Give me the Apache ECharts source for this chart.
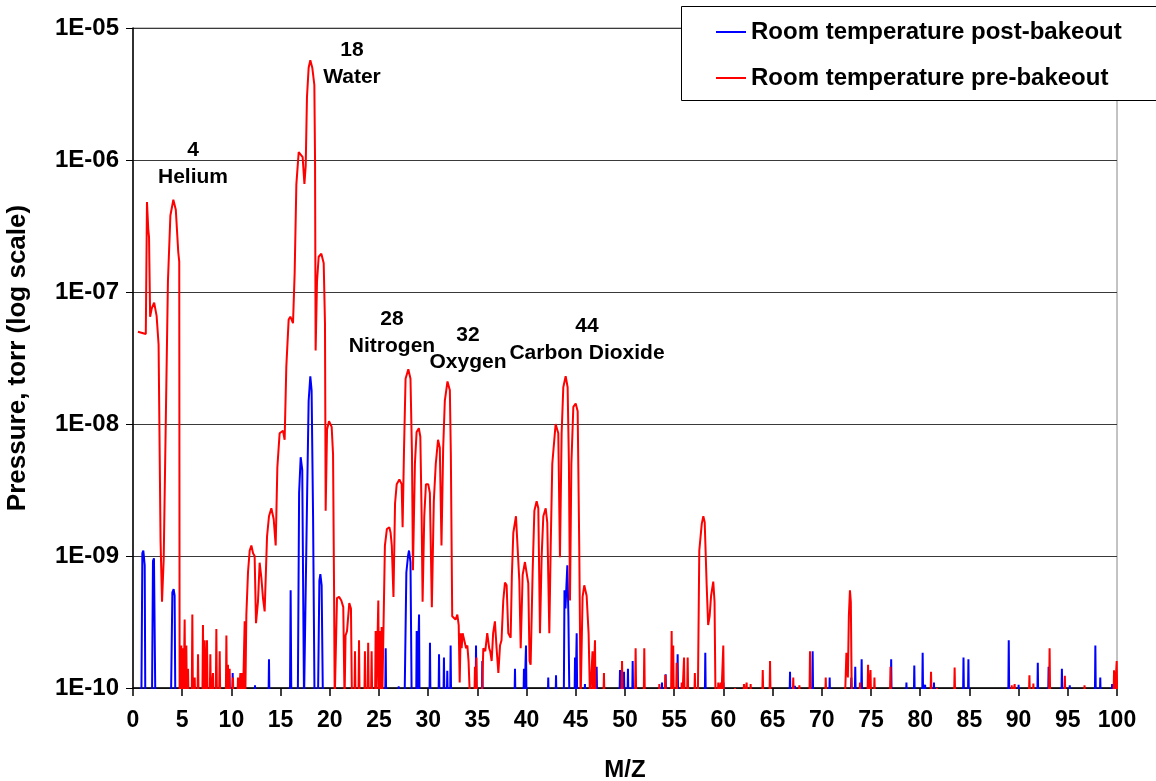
<!DOCTYPE html>
<html>
<head>
<meta charset="utf-8">
<script src="https://cdn.jsdelivr.net/npm/echarts@6/dist/echarts.min.js"></script>
<style>
html,body{margin:0;padding:0;background:#fff;}
#chart{width:1156px;height:781px;}
</style>
</head>
<body>
<div id="chart"></div>
<script>
// ---------- DATA ----------
const FLOOR = 8e-11; // below the 1E-10 axis floor (line drops off the plot)

const seriesNames = ['Room temperature post-bakeout', 'Room temperature pre-bakeout'];
const yTickLabels = ['1E-10', '1E-09', '1E-08', '1E-07', '1E-06', '1E-05'];

// Pre-bakeout (red): continuous parts of the spectrum [M/Z, pressure]
const redTrace = [
  [0.5,5.0e-8],[1.3,4.8e-8],[1.42,4.8e-7],[1.55,3.0e-7],[1.63,2.6e-7],[1.74,6.5e-8],[1.9,7.5e-8],[2.15,8.3e-8],[2.4,6.6e-8],[2.6,4.0e-8],[2.8,1.3e-9],[2.95,4.5e-10],[3.12,9.5e-10],[3.35,1.3e-8],[3.55,1.2e-7],[3.8,3.8e-7],[4.1,5.0e-7],[4.35,4.2e-7],[4.6,2.0e-7],[4.7,1.7e-7],[4.74,FLOOR],
  [11.45,FLOOR],[11.52,3.6e-10],[11.69,7.6e-10],[11.86,1.1e-9],[12.03,1.2e-9],[12.2,1.05e-9],[12.36,1.0e-9],[12.5,3.1e-10],[12.7,4.5e-10],[12.87,8.9e-10],[13.04,6.9e-10],[13.21,4.8e-10],[13.38,3.8e-10],[13.55,3.7e-10],[13.62,1.4e-9],[13.82,2.0e-9],[14.06,2.3e-9],[14.3,1.9e-9],[14.5,1.2e-9],[14.67,4.7e-9],[14.9,8.5e-9],[15.24,8.9e-9],[15.41,7.6e-9],[15.58,2.7e-8],[15.82,6.2e-8],[15.99,6.5e-8],[16.26,5.8e-8],[16.43,1.4e-7],[16.6,6.5e-7],[16.84,1.15e-6],[17.04,1.18e-6],[17.24,1.05e-6],[17.42,6.6e-7],[17.55,9.0e-7],[17.68,3.0e-6],[17.85,5.0e-6],[18.02,5.7e-6],[18.22,5.0e-6],[18.43,3.7e-6],[18.5,1.0e-6],[18.56,3.6e-8],[18.7,1.2e-7],[18.87,1.85e-7],[19.14,1.95e-7],[19.38,1.65e-7],[19.51,5.8e-8],[19.58,2.2e-9],[19.72,9.1e-9],[19.92,1.05e-8],[20.19,9.5e-9],[20.33,5.9e-9],[20.43,6.0e-10],[20.5,FLOOR],
  [20.62,FLOOR],[20.73,4.8e-10],[20.94,4.9e-10],[21.17,4.6e-10],[21.37,4.1e-10],[21.5,FLOOR],[21.6,2.5e-10],[21.75,2.7e-10],[21.98,4.4e-10],[22.15,4.0e-10],[22.25,FLOOR],
  [25.45,FLOOR],[25.6,1.2e-9],[25.8,1.6e-9],[26.05,1.65e-9],[26.18,1.5e-9],[26.3,1.2e-9],[26.47,4.9e-10],[26.63,2.5e-9],[26.8,3.5e-9],[27.07,3.8e-9],[27.3,3.5e-9],[27.4,1.65e-9],[27.54,6.3e-9],[27.7,2.2e-8],[27.98,2.6e-8],[28.2,2.2e-8],[28.35,6.0e-9],[28.45,7.8e-10],[28.65,5.0e-9],[28.82,8.7e-9],[29.05,9.3e-9],[29.2,8.0e-9],[29.33,2.1e-9],[29.43,4.5e-10],[29.6,2.0e-9],[29.77,3.5e-9],[30.0,3.5e-9],[30.17,3.0e-9],[30.37,4.1e-10],[30.57,2.6e-9],[30.77,5.0e-9],[31.0,7.6e-9],[31.18,6.6e-9],[31.35,1.2e-9],[31.52,6.5e-9],[31.69,1.5e-8],[31.96,2.1e-8],[32.2,1.8e-8],[32.3,6.0e-9],[32.44,3.5e-10],[32.6,3.6e-10],[32.78,3.3e-10],[32.96,3.6e-10],[33.1,3.0e-10],[33.2,1.1e-10],[33.3,2.6e-10],[33.4,2.0e-10],[33.5,2.6e-10],[33.7,2.6e-10],[33.85,2.0e-10],[33.98,2.1e-10],[34.1,1.6e-10],[34.25,FLOOR],
  [35.45,FLOOR],[35.6,2.0e-10],[35.8,1.9e-10],[36.0,2.6e-10],[36.2,2.0e-10],[36.3,1.9e-10],[36.45,1.6e-10],[36.6,2.6e-10],[36.78,3.2e-10],[36.95,2.0e-10],[37.13,1.3e-10],[37.3,2.1e-10],[37.45,2.3e-10],[37.63,4.6e-10],[37.8,6.3e-10],[37.97,6.0e-10],[38.14,2.6e-10],[38.38,2.4e-10],[38.5,7.0e-10],[38.65,1.5e-9],[38.92,2.0e-9],[39.09,2.0e-9],[39.26,6.5e-10],[39.4,2.0e-10],[39.6,7.2e-10],[39.83,9.0e-10],[40.0,9.0e-10],[40.17,6.2e-10],[40.3,1.6e-10],[40.41,1.5e-10],[40.61,7.4e-10],[40.79,2.2e-9],[41.02,2.6e-9],[41.19,2.3e-9],[41.36,2.6e-10],[41.53,1.0e-9],[41.7,2.0e-9],[41.94,2.3e-9],[42.1,1.8e-9],[42.31,2.6e-10],[42.45,1.2e-9],[42.61,5.0e-9],[42.95,1.0e-8],[43.22,8.5e-9],[43.39,9.8e-10],[43.56,8.5e-9],[43.73,1.9e-8],[43.97,2.3e-8],[44.17,1.9e-8],[44.3,5.0e-9],[44.41,4.6e-10],[44.55,5.0e-9],[44.75,1.35e-8],[44.99,1.43e-8],[45.19,1.25e-8],[45.35,1.2e-9],[45.49,FLOOR],[45.69,4.9e-10],[45.86,6.0e-10],[46.1,5.0e-10],[46.3,2.6e-10],[46.45,FLOOR],
  [57.4,FLOOR],[57.55,1.1e-9],[57.8,1.75e-9],[57.96,2.0e-9],[58.1,1.8e-9],[58.3,6.0e-10],[58.45,3.0e-10],[58.6,3.5e-10],[58.75,5.0e-10],[58.97,6.4e-10],[59.1,4.5e-10],[59.2,FLOOR],
  [72.35,FLOOR],[72.5,1.85e-10],[72.65,1.2e-10],[72.75,3.5e-10],[72.86,5.5e-10],[72.95,4.5e-10],[73.05,FLOOR]
];

// Pre-bakeout (red): isolated narrow spikes [M/Z, peak pressure]
const redSpikes = [
  [4.91,2.1e-10],[5.08,2.0e-10],[5.25,3.3e-10],[5.42,2.1e-10],[5.59,1.4e-10],[6.03,3.6e-10],[6.27,1.2e-10],[6.61,1.8e-10],[7.11,3.0e-10],[7.28,2.3e-10],[7.52,2.3e-10],[7.86,1.8e-10],[8.13,1.3e-10],[8.47,2.8e-10],[8.81,1.9e-10],[9.49,2.5e-10],[9.65,1.5e-10],[9.82,1.4e-10],[10.16,1.2e-10],[10.67,1.2e-10],[10.91,1.3e-10],[11.11,1.3e-10],[11.35,3.2e-10],
  [22.56,1.9e-10],[22.97,2.3e-10],[23.57,1.9e-10],[23.9,2.2e-10],[24.25,1.9e-10],[24.66,2.7e-10],[24.93,4.6e-10],[25.1,2.7e-10],[25.27,2.9e-10],
  [34.75,1.45e-10],[34.9,1.7e-10],
  [46.7,1.9e-10],[46.95,2.3e-10],[47.86,1.3e-10],[49.7,1.6e-10],[51.08,2.0e-10],[51.96,2.0e-10],[53.49,1.07e-10],[54.1,1.26e-10],[54.74,2.7e-10],[54.9,2.1e-10],[55.25,1.55e-10],[55.76,1.1e-10],[56.0,1.7e-10],[56.37,1.7e-10],[57.1,1.3e-10],
  [59.48,1.1e-10],[59.72,1.1e-10],[59.99,2.1e-10],[61.18,1.0e-10],[62.09,1.07e-10],[62.36,1.1e-10],[62.77,1.07e-10],[64.0,1.37e-10],[64.74,1.6e-10],[67.1,1.2e-10],[67.72,1.05e-10],[68.8,1.9e-10],[70.4,1.2e-10],
  [73.88,1.1e-10],[74.7,1.5e-10],[74.95,1.37e-10],[75.35,1.2e-10],[76.98,1.45e-10],[81.1,1.33e-10],[81.7,1.0e-10],[83.5,1.43e-10],[89.3,1.05e-10],[89.6,1.07e-10],[91.1,1.25e-10],[91.5,1.08e-10],[93.15,2.0e-10],[94.7,1.24e-10],[96.7,1.05e-10],[99.7,1.36e-10],[99.97,1.6e-10]
];

// Post-bakeout (blue): shaped peaks [M/Z, pressure]
const blueTrace = [
  [0.85,FLOOR],[0.95,1.05e-9],[1.05,1.1e-9],[1.19,8.5e-10],[1.25,FLOOR],
  [1.93,FLOOR],[2.03,9.2e-10],[2.13,9.6e-10],[2.27,FLOOR],
  [3.86,FLOOR],[4.0,5.3e-10],[4.13,5.6e-10],[4.23,5.0e-10],[4.3,FLOOR],
  [15.95,FLOOR],[16.02,5.5e-10],[16.09,FLOOR],
  [16.75,FLOOR],[16.88,3.0e-9],[17.04,5.6e-9],[17.2,4.5e-9],[17.38,FLOOR],
  [17.55,FLOOR],[17.7,3.0e-9],[17.85,1.5e-8],[18.02,2.3e-8],[18.15,1.8e-8],[18.3,2.0e-9],[18.45,FLOOR],
  [18.8,FLOOR],[18.94,6.5e-10],[19.04,7.3e-10],[19.17,6.0e-10],[19.3,FLOOR],
  [27.6,FLOOR],[27.78,7.5e-10],[27.95,1.0e-9],[28.05,1.1e-9],[28.2,9.0e-10],[28.32,FLOOR],
  [43.78,FLOOR],[43.85,5.5e-10],[43.95,4.0e-10],[44.05,6.0e-10],[44.14,8.5e-10],[44.25,3.5e-10],[44.35,FLOOR]
];

// Post-bakeout (blue): isolated narrow spikes [M/Z, peak pressure]
const blueSpikes = [
  [10.13,1.3e-10],[12.4,1.05e-10],[13.82,1.65e-10],[25.68,2.0e-10],[27.0,1.03e-10],[28.83,2.7e-10],[29.07,3.6e-10],[30.18,2.2e-10],[31.1,1.8e-10],[31.6,1.7e-10],[31.94,1.35e-10],[32.28,2.1e-10],[34.86,2.1e-10],[35.5,1.6e-10],[38.82,1.4e-10],[39.73,1.4e-10],[39.94,2.1e-10],[42.2,1.2e-10],[42.99,1.25e-10],[44.92,1.7e-10],[45.09,2.6e-10],[45.93,1.07e-10],[47.12,1.45e-10],[49.49,1.37e-10],[49.9,1.33e-10],[50.3,1.4e-10],[50.78,1.6e-10],[53.76,1.1e-10],[54.13,1.27e-10],[55.35,1.8e-10],[58.16,1.85e-10],[60.0,1.1e-10],[66.77,1.33e-10],[67.27,1.04e-10],[69.07,1.9e-10],[70.8,1.2e-10],[73.0,1.2e-10],[73.4,1.45e-10],[74.05,1.65e-10],[77.05,1.65e-10],[78.6,1.1e-10],[79.4,1.48e-10],[80.25,1.85e-10],[80.5,1.06e-10],[81.4,1.1e-10],[84.4,1.7e-10],[84.9,1.65e-10],[89.0,2.3e-10],[90.0,1.06e-10],[91.95,1.55e-10],[93.05,1.45e-10],[94.4,1.4e-10],[95.2,1.05e-10],[97.8,2.1e-10],[98.3,1.2e-10],[99.5,1.07e-10]
];

// Peak annotations: [label line 1, label line 2]
const annotations = [
  ['4', 'Helium'], ['18', 'Water'], ['28', 'Nitrogen'], ['32', 'Oxygen'], ['44', 'Carbon Dioxide']
];

// ---------- BUILD ----------
function buildLine(trace, spikes, halfWidth) {
  const pts = trace.map(p => p.slice());
  spikes.forEach(([x, h]) => {
    pts.push([x - halfWidth, FLOOR], [x, h], [x + halfWidth, FLOOR]);
  });
  pts.sort((a, b) => a[0] - b[0]);
  return pts;
}
const blueData = buildLine(blueTrace, blueSpikes, 0.05);
const redData = buildLine(redTrace, redSpikes, 0.06);

const FONT = "'Liberation Sans', Arial, Helvetica, sans-serif";
const annotPos = [[193,150],[352,50],[392,319],[468,335],[587,326]];

const chart = echarts.init(document.getElementById('chart'), null, {renderer: 'canvas'});
const graphics = [{
  type: 'rect', left: 681, top: 6, z: 10,
  shape: {width: 490, height: 94},
  style: {fill: '#fff', stroke: '#000', lineWidth: 1}
}];
annotations.forEach((a, i) => {
  const [cx, cy] = annotPos[i];
  graphics.push({type: 'text', x: cx, y: cy, z: 20,
    style: {text: a[0], font: 'bold 21px ' + FONT, fill: '#000', textAlign: 'center', textVerticalAlign: 'middle'}});
  graphics.push({type: 'text', x: cx, y: cy + 27, z: 20,
    style: {text: a[1], font: 'bold 21px ' + FONT, fill: '#000', textAlign: 'center', textVerticalAlign: 'middle'}});
});

chart.setOption({
  animation: false,
  backgroundColor: '#fff',
  textStyle: {fontFamily: FONT},
  grid: {left: 133, right: 39, top: 28, bottom: 93, show: true, borderColor: '#888', borderWidth: 1,
         backgroundColor: 'transparent', containLabel: false, outerBoundsMode: 'none'},
  legend: {
    orient: 'vertical', left: 716, top: 20, padding: 0, itemGap: 22, z: 30,
    itemWidth: 30, itemHeight: 2, icon: 'rect',
    textStyle: {fontSize: 24, fontWeight: 'bold', color: '#000', lineHeight: 24, fontFamily: FONT},
    data: seriesNames
  },
  xAxis: {
    type: 'value', min: 0, max: 100, interval: 5,
    name: 'M/Z', nameLocation: 'middle', nameGap: 70,
    nameTextStyle: {fontSize: 24, fontWeight: 'bold', color: '#000', fontFamily: FONT},
    axisLine: {show: true, onZero: false, lineStyle: {color: '#000', width: 1.5}},
    axisTick: {show: true, inside: false, length: 8, lineStyle: {color: '#000', width: 1.5}},
    axisLabel: {fontSize: 23, fontWeight: 'bold', color: '#000', margin: 21, fontFamily: FONT},
    splitLine: {show: false}
  },
  yAxis: {
    type: 'log', logBase: 10, min: 1e-10, max: 1e-5,
    name: 'Pressure, torr (log scale)', nameLocation: 'middle', nameGap: 102, nameRotate: 90,
    nameTextStyle: {fontSize: 26, fontWeight: 'bold', color: '#000', fontFamily: FONT},
    axisLine: {show: true, lineStyle: {color: '#000', width: 1.5}},
    axisTick: {show: true, inside: false, length: 7, lineStyle: {color: '#000', width: 1}},
    minorTick: {show: false},
    axisLabel: {
      fontSize: 24, fontWeight: 'bold', color: '#000', margin: 14, fontFamily: FONT,
      formatter: v => yTickLabels[Math.round(Math.log10(v)) + 10]
    },
    splitLine: {show: true, lineStyle: {color: '#3a3a3a', width: 1}}
  },
  series: [
    {
      name: seriesNames[0], type: 'line', data: blueData, showSymbol: false, symbol: 'none',
      clip: true, smooth: false, z: 3,
      lineStyle: {color: '#0000ff', width: 2}, itemStyle: {color: '#0000ff'}
    },
    {
      name: seriesNames[1], type: 'line', data: redData, showSymbol: false, symbol: 'none',
      clip: true, smooth: false, z: 4,
      lineStyle: {color: '#ff0000', width: 2}, itemStyle: {color: '#ff0000'}
    }
  ],
  graphic: graphics
});
</script>
</body>
</html>
